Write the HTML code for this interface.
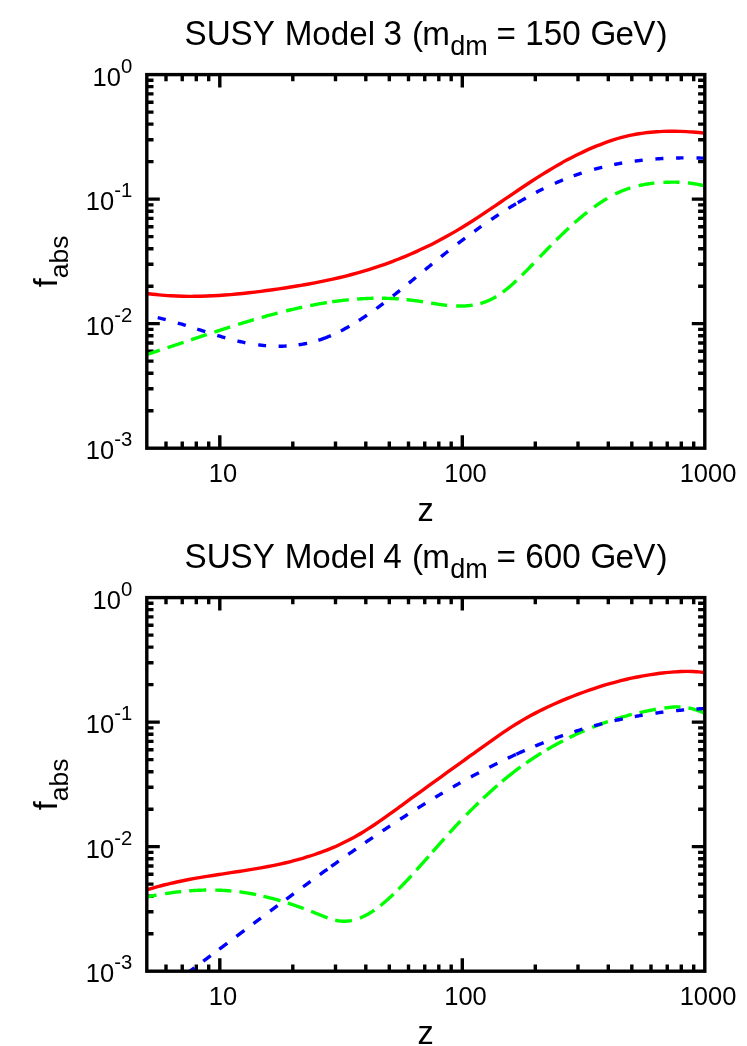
<!DOCTYPE html>
<html><head><meta charset="utf-8"><title>SUSY f_abs</title>
<style>
html,body{margin:0;padding:0;background:#fff;}
body{width:747px;height:1046px;overflow:hidden;}
svg{display:block;font-family:"Liberation Sans",sans-serif;fill:#000;will-change:transform;}
</style></head><body>
<svg width="747" height="1046" viewBox="0 0 747 1046">
<rect width="747" height="1046" fill="#fff"/>
<path d="M166.00 74.60v6.70M166.00 448.20v-6.70M182.24 74.60v6.70M182.24 448.20v-6.70M196.30 74.60v6.70M196.30 448.20v-6.70M208.70 74.60v6.70M208.70 448.20v-6.70M219.80 74.60v13.00M219.80 448.20v-13.00M292.80 74.60v6.70M292.80 448.20v-6.70M335.50 74.60v6.70M335.50 448.20v-6.70M365.80 74.60v6.70M365.80 448.20v-6.70M389.30 74.60v6.70M389.30 448.20v-6.70M408.50 74.60v6.70M408.50 448.20v-6.70M424.74 74.60v6.70M424.74 448.20v-6.70M438.80 74.60v6.70M438.80 448.20v-6.70M451.20 74.60v6.70M451.20 448.20v-6.70M462.30 74.60v13.00M462.30 448.20v-13.00M535.30 74.60v6.70M535.30 448.20v-6.70M578.00 74.60v6.70M578.00 448.20v-6.70M608.30 74.60v6.70M608.30 448.20v-6.70M631.80 74.60v6.70M631.80 448.20v-6.70M651.00 74.60v6.70M651.00 448.20v-6.70M667.24 74.60v6.70M667.24 448.20v-6.70M681.30 74.60v6.70M681.30 448.20v-6.70M693.70 74.60v6.70M693.70 448.20v-6.70M146.80 199.13h13.00M704.80 199.13h-13.00M146.80 161.65h6.70M704.80 161.65h-6.70M146.80 139.72h6.70M704.80 139.72h-6.70M146.80 124.16h6.70M704.80 124.16h-6.70M146.80 112.09h6.70M704.80 112.09h-6.70M146.80 102.23h6.70M704.80 102.23h-6.70M146.80 93.89h6.70M704.80 93.89h-6.70M146.80 86.67h6.70M704.80 86.67h-6.70M146.80 80.30h6.70M704.80 80.30h-6.70M146.80 323.67h13.00M704.80 323.67h-13.00M146.80 286.18h6.70M704.80 286.18h-6.70M146.80 264.25h6.70M704.80 264.25h-6.70M146.80 248.69h6.70M704.80 248.69h-6.70M146.80 236.62h6.70M704.80 236.62h-6.70M146.80 226.76h6.70M704.80 226.76h-6.70M146.80 218.42h6.70M704.80 218.42h-6.70M146.80 211.20h6.70M704.80 211.20h-6.70M146.80 204.83h6.70M704.80 204.83h-6.70M146.80 410.71h6.70M704.80 410.71h-6.70M146.80 388.78h6.70M704.80 388.78h-6.70M146.80 373.22h6.70M704.80 373.22h-6.70M146.80 361.15h6.70M704.80 361.15h-6.70M146.80 351.29h6.70M704.80 351.29h-6.70M146.80 342.96h6.70M704.80 342.96h-6.70M146.80 335.74h6.70M704.80 335.74h-6.70M146.80 329.36h6.70M704.80 329.36h-6.70" stroke="#000" stroke-width="3.40" fill="none"/>
<clipPath id="c3"><rect x="146.80" y="74.60" width="558.00" height="373.60"/></clipPath>
<g clip-path="url(#c3)" fill="none" stroke-width="3.40">
<path d="M146.80 293.51 C147.80 293.63 150.80 294.02 152.80 294.25 C154.80 294.47 156.80 294.68 158.80 294.86 C160.80 295.05 162.80 295.22 164.80 295.37 C166.80 295.52 168.80 295.65 170.80 295.76 C172.80 295.87 174.80 295.97 176.80 296.05 C178.80 296.13 180.80 296.19 182.80 296.24 C184.80 296.28 186.80 296.31 188.80 296.33 C190.80 296.34 192.80 296.34 194.80 296.32 C196.80 296.31 198.80 296.28 200.80 296.23 C202.80 296.19 204.80 296.13 206.80 296.06 C208.80 295.98 210.80 295.90 212.80 295.80 C214.80 295.70 216.80 295.59 218.80 295.47 C220.80 295.34 222.80 295.21 224.80 295.06 C226.80 294.92 228.80 294.76 230.80 294.59 C232.80 294.42 234.80 294.24 236.80 294.05 C238.80 293.86 240.80 293.66 242.80 293.46 C244.80 293.25 246.80 293.03 248.80 292.80 C250.80 292.58 252.80 292.34 254.80 292.10 C256.80 291.86 258.80 291.61 260.80 291.35 C262.80 291.09 264.80 290.83 266.80 290.56 C268.80 290.29 270.80 290.01 272.80 289.72 C274.80 289.44 276.80 289.15 278.80 288.86 C280.80 288.56 282.80 288.26 284.80 287.96 C286.80 287.65 288.80 287.34 290.80 287.02 C292.80 286.71 294.80 286.38 296.80 286.05 C298.80 285.72 300.80 285.38 302.80 285.04 C304.80 284.69 306.80 284.34 308.80 283.97 C310.80 283.61 312.80 283.24 314.80 282.86 C316.80 282.48 318.80 282.09 320.80 281.68 C322.80 281.28 324.80 280.87 326.80 280.44 C328.80 280.02 330.80 279.59 332.80 279.14 C334.80 278.69 336.80 278.23 338.80 277.76 C340.80 277.29 342.80 276.80 344.80 276.30 C346.80 275.80 348.80 275.29 350.80 274.76 C352.80 274.23 354.80 273.69 356.80 273.14 C358.80 272.58 360.80 272.00 362.80 271.42 C364.80 270.83 366.80 270.22 368.80 269.60 C370.80 268.98 372.80 268.34 374.80 267.68 C376.80 267.03 378.80 266.36 380.80 265.67 C382.80 264.98 384.80 264.28 386.80 263.55 C388.80 262.83 390.80 262.09 392.80 261.33 C394.80 260.57 396.80 259.80 398.80 259.00 C400.80 258.21 402.80 257.39 404.80 256.56 C406.80 255.73 408.80 254.88 410.80 254.01 C412.80 253.14 414.80 252.26 416.80 251.35 C418.80 250.44 420.80 249.52 422.80 248.57 C424.80 247.62 426.80 246.66 428.80 245.67 C430.80 244.69 432.80 243.68 434.80 242.66 C436.80 241.63 438.80 240.59 440.80 239.52 C442.80 238.45 444.80 237.37 446.80 236.26 C448.80 235.15 450.80 234.02 452.80 232.87 C454.80 231.72 456.80 230.55 458.80 229.35 C460.80 228.16 462.80 226.94 464.80 225.71 C466.80 224.47 468.80 223.22 470.80 221.95 C472.80 220.68 474.80 219.39 476.80 218.08 C478.80 216.78 480.80 215.47 482.80 214.14 C484.80 212.82 486.80 211.48 488.80 210.13 C490.80 208.79 492.80 207.43 494.80 206.08 C496.80 204.72 498.80 203.36 500.80 201.99 C502.80 200.63 504.80 199.26 506.80 197.90 C508.80 196.54 510.80 195.17 512.80 193.81 C514.80 192.45 516.80 191.10 518.80 189.75 C520.80 188.40 522.80 187.06 524.80 185.73 C526.80 184.40 528.80 183.07 530.80 181.77 C532.80 180.46 534.80 179.16 536.80 177.88 C538.80 176.61 540.80 175.34 542.80 174.10 C544.80 172.85 546.80 171.62 548.80 170.42 C550.80 169.21 552.80 168.02 554.80 166.85 C556.80 165.69 558.80 164.54 560.80 163.42 C562.80 162.29 564.80 161.19 566.80 160.12 C568.80 159.04 570.80 157.98 572.80 156.95 C574.80 155.92 576.80 154.92 578.80 153.94 C580.80 152.96 582.80 152.01 584.80 151.09 C586.80 150.16 588.80 149.26 590.80 148.40 C592.80 147.53 594.80 146.69 596.80 145.88 C598.80 145.07 600.80 144.29 602.80 143.54 C604.80 142.80 606.80 142.08 608.80 141.40 C610.80 140.71 612.80 140.06 614.80 139.45 C616.80 138.83 618.80 138.25 620.80 137.70 C622.80 137.16 624.80 136.65 626.80 136.17 C628.80 135.70 630.80 135.26 632.80 134.86 C634.80 134.46 636.80 134.10 638.80 133.77 C640.80 133.44 642.80 133.15 644.80 132.89 C646.80 132.63 648.80 132.40 650.80 132.21 C652.80 132.01 654.80 131.85 656.80 131.71 C658.80 131.57 660.80 131.47 662.80 131.39 C664.80 131.31 666.80 131.26 668.80 131.23 C670.80 131.20 672.80 131.20 674.80 131.22 C676.80 131.25 678.80 131.29 680.80 131.36 C682.80 131.43 684.80 131.52 686.80 131.63 C688.80 131.73 690.80 131.87 692.80 132.01 C694.80 132.16 696.80 132.32 698.80 132.50 C700.80 132.68 703.80 132.99 704.80 133.09" stroke="#ff0000"/>
<path d="M146.80 354.46L147.80 354.14L148.80 353.82L149.80 353.50L150.80 353.17L151.80 352.85L152.80 352.52L153.80 352.20L154.80 351.87L155.80 351.54L156.80 351.22L157.80 350.89L158.80 350.56L159.80 350.23M167.50 347.68L167.80 347.58L168.80 347.25L169.80 346.92L170.80 346.59L171.80 346.25L172.80 345.92L173.80 345.59L174.80 345.25L175.80 344.92L176.80 344.58L177.80 344.25L178.80 343.91L179.80 343.58L180.80 343.24L181.80 342.91L182.80 342.57L183.60 342.30M191.10 339.79L191.80 339.55L192.80 339.22L193.80 338.88L194.80 338.55L195.80 338.22L196.80 337.88L197.80 337.55L198.80 337.21L199.80 336.88L200.80 336.54L201.80 336.21L202.80 335.88L203.80 335.55L204.80 335.21L205.80 334.88L206.80 334.55M214.40 332.04L214.80 331.91L215.80 331.58L216.80 331.26L217.80 330.93L218.80 330.60L219.80 330.28L220.80 329.95L221.80 329.63L222.80 329.30L223.80 328.98L224.80 328.66L225.80 328.34L226.80 328.02L227.80 327.70L228.80 327.38L229.80 327.06L230.10 326.96M238.20 324.41L238.80 324.23L239.80 323.92L240.80 323.61L241.80 323.30L242.80 322.99L243.80 322.69L244.80 322.38L245.80 322.08L246.80 321.77L247.80 321.47L248.80 321.17L249.80 320.87L250.80 320.57L251.80 320.28L252.80 319.98L253.80 319.68L253.90 319.66M261.70 317.40L261.80 317.37L262.80 317.09L263.80 316.80L264.80 316.52L265.80 316.24L266.80 315.97L267.80 315.69L268.80 315.42L269.80 315.14L270.80 314.87L271.80 314.60L272.80 314.33L273.80 314.06L274.80 313.80L275.80 313.53L276.80 313.27L277.60 313.06M286.10 310.91L286.80 310.74L287.80 310.50L288.80 310.25L289.80 310.01L290.80 309.78L291.80 309.54L292.80 309.31L293.80 309.07L294.80 308.84L295.80 308.61L296.80 308.39L297.80 308.16L298.80 307.94L299.80 307.72L300.80 307.50L301.80 307.29L302.20 307.20M310.20 305.55L310.80 305.43L311.80 305.24L312.80 305.05L313.80 304.85L314.80 304.67L315.80 304.48L316.80 304.30L317.80 304.12L318.80 303.94L319.80 303.76L320.80 303.59L321.80 303.42L322.80 303.25L323.80 303.08L324.80 302.92L325.80 302.75L326.80 302.60L326.90 302.58M332.20 301.78L332.80 301.69L333.80 301.55L334.80 301.41L335.80 301.28L336.80 301.15L337.80 301.02L338.80 300.89L339.80 300.76L340.80 300.64L341.80 300.52L342.80 300.40L343.80 300.29L344.80 300.18L345.80 300.07L346.80 299.97L347.80 299.86L348.80 299.77M357.10 299.05L357.80 299.00L358.80 298.94L359.80 298.87L360.80 298.81L361.80 298.75L362.80 298.69L363.80 298.64L364.80 298.59L365.80 298.54L366.80 298.49L367.80 298.45L368.80 298.42L369.80 298.38L370.80 298.35L371.80 298.32L372.80 298.30L373.50 298.29M382.00 298.24L382.80 298.25L383.80 298.27L384.80 298.28L385.80 298.30L386.80 298.33L387.80 298.36L388.80 298.39L389.80 298.43L390.80 298.47L391.80 298.51L392.80 298.56L393.80 298.61L394.80 298.66L395.80 298.72L396.80 298.79L397.80 298.85L398.80 298.92L398.90 298.93M406.50 299.59L406.80 299.62L407.80 299.73L408.80 299.84L409.80 299.95L410.80 300.07L411.80 300.19L412.80 300.32L413.80 300.45L414.80 300.58L415.80 300.72L416.80 300.87L417.80 301.01L418.80 301.16L419.80 301.31L420.80 301.47L421.80 301.62L422.80 301.78L423.00 301.81M431.10 303.12L431.80 303.24L432.80 303.40L433.80 303.55L434.80 303.71L435.80 303.86L436.80 304.02L437.80 304.16L438.80 304.31L439.80 304.45L440.80 304.59L441.80 304.72L442.80 304.85L443.80 304.98L444.80 305.10L445.80 305.21L446.80 305.32L447.10 305.35M456.20 306.00L456.80 306.02L457.80 306.05L458.80 306.06L459.80 306.07L460.80 306.07L461.80 306.05L462.80 306.03L463.80 305.99L464.80 305.94L465.80 305.88L466.80 305.81L467.80 305.73L468.80 305.63L469.80 305.52L470.80 305.40L471.80 305.26L472.70 305.12M480.30 303.48L480.80 303.34L481.80 303.04L482.80 302.73L483.80 302.39L484.80 302.04L485.80 301.67L486.80 301.28L487.80 300.87L488.80 300.44L489.80 299.99L490.80 299.52L491.80 299.03L492.80 298.52L493.80 297.98L494.80 297.42L495.80 296.84L496.30 296.54M502.80 292.16L503.80 291.41L504.80 290.64L505.80 289.86L506.80 289.05L507.80 288.23L508.80 287.40L509.80 286.54L510.80 285.68L511.80 284.80L512.80 283.91L513.80 283.00L514.80 282.08L515.80 281.15L516.40 280.59M522.00 275.17L522.80 274.38L523.80 273.38L524.80 272.38L525.80 271.37L526.80 270.36L527.80 269.34L528.80 268.32L529.80 267.29L530.80 266.27L531.80 265.24L532.80 264.21L533.50 263.49M539.80 256.96L540.80 255.92L541.80 254.89L542.80 253.85L543.80 252.81L544.80 251.78L545.80 250.75L546.80 249.72L547.80 248.69L548.80 247.66L549.80 246.64L550.80 245.62L551.00 245.41M556.40 239.96L556.80 239.57L557.80 238.57L558.80 237.58L559.80 236.60L560.80 235.62L561.80 234.65L562.80 233.69L563.80 232.73L564.80 231.77L565.80 230.82L566.80 229.88L567.80 228.95L568.80 228.02M574.50 222.85L574.80 222.58L575.80 221.70L576.80 220.83L577.80 219.96L578.80 219.11L579.80 218.25L580.80 217.41L581.80 216.58L582.80 215.75L583.80 214.93L584.80 214.12L585.80 213.32L586.80 212.53L587.10 212.29M594.10 207.02L594.80 206.51L595.80 205.80L596.80 205.10L597.80 204.41L598.80 203.73L599.80 203.06L600.80 202.40L601.80 201.75L602.80 201.10L603.80 200.47L604.80 199.86L605.80 199.25L606.80 198.65L607.20 198.41M615.20 194.07L615.80 193.77L616.80 193.29L617.80 192.81L618.80 192.35L619.80 191.90L620.80 191.47L621.80 191.05L622.80 190.63L623.80 190.24L624.80 189.85L625.80 189.48L626.80 189.12L627.80 188.77L628.80 188.43L629.80 188.10L630.30 187.94M638.70 185.66L638.80 185.64L639.80 185.42L640.80 185.20L641.80 185.00L642.80 184.80L643.80 184.62L644.80 184.44L645.80 184.27L646.80 184.10L647.80 183.95L648.80 183.80L649.80 183.66L650.80 183.53L651.80 183.41L652.80 183.29L653.80 183.18L654.40 183.12M663.40 182.42L663.80 182.40L664.80 182.35L665.80 182.30L666.80 182.27L667.80 182.23L668.80 182.20L669.80 182.18L670.80 182.16L671.80 182.15L672.80 182.14L673.80 182.14L674.80 182.15L675.80 182.16L676.80 182.18L677.80 182.21L678.80 182.24L679.50 182.27M687.90 182.88L688.80 182.97L689.80 183.09L690.80 183.22L691.80 183.35L692.80 183.50L693.80 183.65L694.80 183.81L695.80 183.98L696.80 184.16L697.80 184.36L698.80 184.56L699.80 184.77L700.80 184.99L701.80 185.22L702.80 185.46L703.80 185.71L704.80 185.97" stroke="#00ff00"/>
<path d="M157.70 317.70L158.70 317.93L159.70 318.16L160.70 318.40L161.70 318.64L162.70 318.88L163.70 319.13L164.70 319.38L165.70 319.64M177.80 323.01L178.70 323.28L179.70 323.58L180.70 323.88L181.70 324.19L182.70 324.49L183.70 324.80L184.70 325.11L185.71 325.42L185.80 325.45M197.20 329.08L197.71 329.25L198.71 329.57L199.71 329.89L200.71 330.21L201.71 330.54L202.71 330.86L203.71 331.18L204.71 331.50L205.30 331.69M217.30 335.45L217.71 335.57L218.71 335.87L219.71 336.17L220.71 336.47L221.71 336.76L222.71 337.06L223.71 337.35L224.71 337.63L225.30 337.80M237.40 340.97L237.71 341.04L238.71 341.28L239.71 341.51L240.72 341.73L241.72 341.95L242.72 342.17L243.72 342.38L244.72 342.59L245.40 342.73M258.20 344.85L258.72 344.92L259.72 345.04L260.72 345.16L261.72 345.27L262.72 345.38L263.72 345.48L264.72 345.58L265.72 345.67L266.10 345.70M278.60 346.24L278.72 346.24L279.72 346.24L280.72 346.23L281.72 346.21L282.72 346.19L283.72 346.15L284.72 346.12L285.72 346.07L286.60 346.03M298.60 344.82L298.73 344.80L299.73 344.65L300.73 344.49L301.73 344.32L302.73 344.15L303.73 343.96L304.73 343.77L305.73 343.57L306.73 343.36L307.10 343.28M318.40 340.28L318.73 340.17L319.73 339.85L320.73 339.52L321.73 339.18L322.73 338.83L323.73 338.47L324.73 338.10L325.73 337.72L326.73 337.33L327.73 336.93L328.73 336.53L329.73 336.11L330.73 335.69L330.90 335.61M340.90 330.89L341.73 330.46L342.73 329.94L343.73 329.41L344.73 328.87L345.73 328.32L346.73 327.77L347.73 327.21L348.73 326.64L349.40 326.26M358.90 320.49L359.74 319.96L360.74 319.31L361.74 318.66L362.74 318.00L363.74 317.34L364.74 316.67L365.74 316.00L366.74 315.32L366.90 315.21M376.40 308.50L376.74 308.25L377.74 307.52L378.74 306.78L379.74 306.04L380.74 305.30L381.74 304.55L382.74 303.80L383.40 303.30M392.90 295.96L393.74 295.30L394.74 294.51L395.74 293.72L396.74 292.92L397.74 292.12L398.74 291.32L399.74 290.52L399.90 290.40M408.90 283.10L409.75 282.41L410.75 281.59L411.75 280.77L412.75 279.95L413.75 279.12L414.75 278.30L415.75 277.48L415.90 277.35M425.00 269.85L425.75 269.24L426.75 268.41L427.75 267.59L428.75 266.77L429.75 265.95L430.75 265.13L431.75 264.31L432.10 264.02M441.10 256.72L441.75 256.19L442.75 255.39L443.75 254.59L444.75 253.79L445.75 253.00L446.75 252.21L447.75 251.42L448.10 251.14M457.80 243.61L458.76 242.88L459.76 242.12L460.76 241.36L461.76 240.60L462.76 239.85L463.76 239.10L464.76 238.35L465.00 238.17M474.40 231.27L474.76 231.01L475.76 230.29L476.76 229.57L477.76 228.86L478.76 228.15L479.76 227.44L480.76 226.73L481.40 226.28M491.30 219.47L491.76 219.16L492.76 218.49L493.76 217.82L494.76 217.16L495.76 216.50L496.76 215.84L497.76 215.18L498.70 214.57M508.40 208.39L508.76 208.17L509.76 207.55L510.76 206.93L511.76 206.32L512.76 205.71L513.77 205.10L514.77 204.50L515.77 203.90L516.00 203.76M517.80 202.69L518.77 202.12L519.77 201.54L520.77 200.95L521.77 200.37L522.77 199.80L523.77 199.23L524.77 198.66L525.77 198.09L525.80 198.07M536.10 192.47L536.77 192.12L537.77 191.61L538.77 191.09L539.77 190.58L540.77 190.07L541.77 189.57L542.77 189.07L543.50 188.71M554.90 183.35L555.77 182.96L556.77 182.53L557.77 182.09L558.77 181.66L559.77 181.24L560.77 180.82L561.77 180.40L562.77 179.99L563.00 179.90M573.70 175.79L573.78 175.76L574.78 175.41L575.78 175.05L576.78 174.70L577.78 174.36L578.78 174.02L579.78 173.68L580.78 173.35L581.70 173.05M594.10 169.31L594.78 169.13L595.78 168.86L596.78 168.59L597.78 168.32L598.78 168.06L599.78 167.81L600.78 167.56L601.78 167.31L602.20 167.20M614.20 164.53L614.78 164.41L615.78 164.21L616.78 164.02L617.78 163.83L618.78 163.64L619.78 163.46L620.78 163.28L621.78 163.10L622.20 163.03M634.70 161.11L634.79 161.10L635.79 160.97L636.79 160.84L637.79 160.71L638.79 160.59L639.79 160.47L640.79 160.35L641.79 160.24L642.70 160.14M655.40 158.98L655.79 158.95L656.79 158.88L657.79 158.81L658.79 158.75L659.79 158.68L660.79 158.62L661.79 158.56L662.79 158.51L663.40 158.48M676.10 158.00L676.79 157.99L677.80 157.97L678.80 157.95L679.80 157.94L680.80 157.92L681.80 157.91L682.80 157.90L683.50 157.90M696.50 158.00L696.80 158.00L697.80 158.02L698.80 158.05L699.80 158.07L700.80 158.10L701.80 158.13L702.80 158.16L703.80 158.19L704.80 158.22" stroke="#0000ff"/>
</g>
<rect x="146.80" y="74.60" width="558.00" height="373.60" fill="none" stroke="#000" stroke-width="3.40"/>
<text transform="translate(223.00 481.80) scale(1 1.020)" font-size="25.50" text-anchor="middle">10</text>
<text transform="translate(465.50 481.80) scale(1 1.020)" font-size="25.50" text-anchor="middle">100</text>
<text transform="translate(708.00 481.80) scale(1 1.020)" font-size="25.50" text-anchor="middle">1000</text>
<text transform="translate(132.20 85.70) scale(1 1.020)" font-size="25.50" text-anchor="end">10<tspan font-size="20.30" dy="-12.75">0</tspan></text>
<text transform="translate(132.20 210.23) scale(1 1.020)" font-size="25.50" text-anchor="end">10<tspan font-size="20.30" dy="-12.75">-1</tspan></text>
<text transform="translate(132.20 334.77) scale(1 1.020)" font-size="25.50" text-anchor="end">10<tspan font-size="20.30" dy="-12.75">-2</tspan></text>
<text transform="translate(132.20 459.30) scale(1 1.020)" font-size="25.50" text-anchor="end">10<tspan font-size="20.30" dy="-12.75">-3</tspan></text>
<text transform="translate(425.60 521.40)" font-size="32.50" text-anchor="middle">z</text>
<text transform="translate(57.10 261.40) rotate(-90)" font-size="32.50" text-anchor="middle">f<tspan font-size="26.50" dy="10.7">abs</tspan></text>
<text transform="translate(184.51 45.10) scale(1 1.070)" font-size="33.20" text-anchor="start">SUSY</text>
<text transform="translate(284.66 45.10) scale(1 1.060)" font-size="33.20" text-anchor="start">M</text>
<text transform="translate(312.32 45.10)" font-size="33.20" text-anchor="start">odel</text>
<text transform="translate(383.45 45.10) scale(1 1.030)" font-size="33.20" text-anchor="start">3</text>
<text transform="translate(411.93 45.10)" font-size="33.20" text-anchor="start">(</text>
<text transform="translate(422.16 45.10)" font-size="33.20" text-anchor="start">m</text>
<text transform="translate(450.25 55.30)" font-size="27.00" text-anchor="start">dm</text>
<text transform="translate(496.54 45.10)" font-size="33.20" text-anchor="start">=</text>
<text transform="translate(525.30 45.10) scale(1 1.030)" font-size="33.20" text-anchor="start">150</text>
<text transform="translate(590.44 45.10) scale(1 1.070)" font-size="33.20" text-anchor="start">G</text>
<text transform="translate(615.39 45.10)" font-size="33.20" text-anchor="start">e</text>
<text transform="translate(633.13 45.10) scale(1 1.060)" font-size="33.20" text-anchor="start">V</text>
<text transform="translate(656.55 45.10)" font-size="33.20" text-anchor="start">)</text>
<path d="M166.00 597.60v6.70M166.00 971.20v-6.70M182.24 597.60v6.70M182.24 971.20v-6.70M196.30 597.60v6.70M196.30 971.20v-6.70M208.70 597.60v6.70M208.70 971.20v-6.70M219.80 597.60v13.00M219.80 971.20v-13.00M292.80 597.60v6.70M292.80 971.20v-6.70M335.50 597.60v6.70M335.50 971.20v-6.70M365.80 597.60v6.70M365.80 971.20v-6.70M389.30 597.60v6.70M389.30 971.20v-6.70M408.50 597.60v6.70M408.50 971.20v-6.70M424.74 597.60v6.70M424.74 971.20v-6.70M438.80 597.60v6.70M438.80 971.20v-6.70M451.20 597.60v6.70M451.20 971.20v-6.70M462.30 597.60v13.00M462.30 971.20v-13.00M535.30 597.60v6.70M535.30 971.20v-6.70M578.00 597.60v6.70M578.00 971.20v-6.70M608.30 597.60v6.70M608.30 971.20v-6.70M631.80 597.60v6.70M631.80 971.20v-6.70M651.00 597.60v6.70M651.00 971.20v-6.70M667.24 597.60v6.70M667.24 971.20v-6.70M681.30 597.60v6.70M681.30 971.20v-6.70M693.70 597.60v6.70M693.70 971.20v-6.70M146.80 722.13h13.00M704.80 722.13h-13.00M146.80 684.65h6.70M704.80 684.65h-6.70M146.80 662.72h6.70M704.80 662.72h-6.70M146.80 647.16h6.70M704.80 647.16h-6.70M146.80 635.09h6.70M704.80 635.09h-6.70M146.80 625.23h6.70M704.80 625.23h-6.70M146.80 616.89h6.70M704.80 616.89h-6.70M146.80 609.67h6.70M704.80 609.67h-6.70M146.80 603.30h6.70M704.80 603.30h-6.70M146.80 846.67h13.00M704.80 846.67h-13.00M146.80 809.18h6.70M704.80 809.18h-6.70M146.80 787.25h6.70M704.80 787.25h-6.70M146.80 771.69h6.70M704.80 771.69h-6.70M146.80 759.62h6.70M704.80 759.62h-6.70M146.80 749.76h6.70M704.80 749.76h-6.70M146.80 741.42h6.70M704.80 741.42h-6.70M146.80 734.20h6.70M704.80 734.20h-6.70M146.80 727.83h6.70M704.80 727.83h-6.70M146.80 933.71h6.70M704.80 933.71h-6.70M146.80 911.78h6.70M704.80 911.78h-6.70M146.80 896.22h6.70M704.80 896.22h-6.70M146.80 884.15h6.70M704.80 884.15h-6.70M146.80 874.29h6.70M704.80 874.29h-6.70M146.80 865.96h6.70M704.80 865.96h-6.70M146.80 858.74h6.70M704.80 858.74h-6.70M146.80 852.36h6.70M704.80 852.36h-6.70" stroke="#000" stroke-width="3.40" fill="none"/>
<clipPath id="c4"><rect x="146.80" y="597.60" width="558.00" height="373.60"/></clipPath>
<g clip-path="url(#c4)" fill="none" stroke-width="3.40">
<path d="M146.80 889.83 C147.80 889.53 150.80 888.59 152.80 888.01 C154.80 887.43 156.80 886.87 158.80 886.33 C160.80 885.78 162.80 885.27 164.80 884.76 C166.80 884.26 168.80 883.78 170.80 883.32 C172.80 882.85 174.80 882.40 176.80 881.97 C178.80 881.54 180.80 881.12 182.80 880.72 C184.80 880.31 186.80 879.92 188.80 879.54 C190.80 879.17 192.80 878.80 194.80 878.44 C196.80 878.08 198.80 877.74 200.80 877.40 C202.80 877.06 204.80 876.73 206.80 876.40 C208.80 876.08 210.80 875.76 212.80 875.45 C214.80 875.13 216.80 874.82 218.80 874.52 C220.80 874.21 222.80 873.91 224.80 873.60 C226.80 873.30 228.80 873.00 230.80 872.69 C232.80 872.39 234.80 872.09 236.80 871.78 C238.80 871.47 240.80 871.17 242.80 870.85 C244.80 870.54 246.80 870.22 248.80 869.89 C250.80 869.57 252.80 869.24 254.80 868.90 C256.80 868.56 258.80 868.21 260.80 867.85 C262.80 867.50 264.80 867.13 266.80 866.75 C268.80 866.37 270.80 865.98 272.80 865.58 C274.80 865.17 276.80 864.76 278.80 864.32 C280.80 863.89 282.80 863.44 284.80 862.98 C286.80 862.51 288.80 862.03 290.80 861.53 C292.80 861.03 294.80 860.51 296.80 859.97 C298.80 859.42 300.80 858.86 302.80 858.28 C304.80 857.69 306.80 857.09 308.80 856.46 C310.80 855.83 312.80 855.17 314.80 854.49 C316.80 853.81 318.80 853.10 320.80 852.37 C322.80 851.63 324.80 850.87 326.80 850.07 C328.80 849.28 330.80 848.46 332.80 847.60 C334.80 846.75 336.80 845.86 338.80 844.94 C340.80 844.02 342.80 843.07 344.80 842.09 C346.80 841.10 348.80 840.08 350.80 839.02 C352.80 837.96 354.80 836.86 356.80 835.72 C358.80 834.59 360.80 833.41 362.80 832.20 C364.80 830.99 366.80 829.73 368.80 828.44 C370.80 827.16 372.80 825.83 374.80 824.49 C376.80 823.14 378.80 821.76 380.80 820.37 C382.80 818.98 384.80 817.56 386.80 816.13 C388.80 814.71 390.80 813.26 392.80 811.82 C394.80 810.37 396.80 808.91 398.80 807.45 C400.80 806.00 402.80 804.54 404.80 803.09 C406.80 801.63 408.80 800.18 410.80 798.73 C412.80 797.28 414.80 795.83 416.80 794.38 C418.80 792.93 420.80 791.48 422.80 790.03 C424.80 788.58 426.80 787.14 428.80 785.69 C430.80 784.24 432.80 782.80 434.80 781.36 C436.80 779.91 438.80 778.47 440.80 777.03 C442.80 775.58 444.80 774.14 446.80 772.70 C448.80 771.26 450.80 769.82 452.80 768.38 C454.80 766.94 456.80 765.50 458.80 764.06 C460.80 762.63 462.80 761.19 464.80 759.75 C466.80 758.32 468.80 756.88 470.80 755.44 C472.80 754.01 474.80 752.57 476.80 751.14 C478.80 749.70 480.80 748.27 482.80 746.84 C484.80 745.40 486.80 743.97 488.80 742.55 C490.80 741.13 492.80 739.71 494.80 738.31 C496.80 736.91 498.80 735.52 500.80 734.15 C502.80 732.78 504.80 731.42 506.80 730.09 C508.80 728.76 510.80 727.45 512.80 726.18 C514.80 724.90 516.80 723.65 518.80 722.43 C520.80 721.22 522.80 720.04 524.80 718.89 C526.80 717.74 528.80 716.63 530.80 715.54 C532.80 714.46 534.80 713.40 536.80 712.37 C538.80 711.34 540.80 710.35 542.80 709.37 C544.80 708.39 546.80 707.44 548.80 706.51 C550.80 705.58 552.80 704.67 554.80 703.78 C556.80 702.89 558.80 702.02 560.80 701.17 C562.80 700.31 564.80 699.47 566.80 698.65 C568.80 697.83 570.80 697.03 572.80 696.24 C574.80 695.46 576.80 694.68 578.80 693.93 C580.80 693.18 582.80 692.44 584.80 691.73 C586.80 691.01 588.80 690.31 590.80 689.62 C592.80 688.94 594.80 688.27 596.80 687.63 C598.80 686.98 600.80 686.35 602.80 685.74 C604.80 685.13 606.80 684.53 608.80 683.96 C610.80 683.38 612.80 682.82 614.80 682.28 C616.80 681.75 618.80 681.22 620.80 680.72 C622.80 680.22 624.80 679.74 626.80 679.27 C628.80 678.81 630.80 678.36 632.80 677.94 C634.80 677.51 636.80 677.10 638.80 676.72 C640.80 676.33 642.80 675.96 644.80 675.61 C646.80 675.26 648.80 674.93 650.80 674.62 C652.80 674.31 654.80 674.02 656.80 673.75 C658.80 673.48 660.80 673.23 662.80 673.00 C664.80 672.76 666.80 672.55 668.80 672.36 C670.80 672.17 672.80 672.00 674.80 671.86 C676.80 671.71 678.80 671.59 680.80 671.51 C682.80 671.42 684.80 671.37 686.80 671.36 C688.80 671.36 690.80 671.39 692.80 671.47 C694.80 671.56 696.80 671.69 698.80 671.89 C700.80 672.08 703.80 672.52 704.80 672.65" stroke="#ff0000"/>
<path d="M146.80 897.01L147.80 896.81L148.80 896.60L149.80 896.40L150.80 896.20L151.80 896.00L152.80 895.81L153.80 895.62L154.80 895.43L155.80 895.25L156.50 895.12M165.10 893.66L165.80 893.56L166.80 893.40L167.80 893.25L168.80 893.11L169.80 892.96L170.80 892.82L171.80 892.69L172.80 892.55L173.80 892.42L174.80 892.29L175.80 892.17L176.80 892.05L177.80 891.93L178.80 891.82L179.80 891.71L180.80 891.60L181.20 891.56M189.20 890.83L189.80 890.78L190.80 890.71L191.80 890.64L192.80 890.58L193.80 890.51L194.80 890.45L195.80 890.40L196.80 890.35L197.80 890.30L198.80 890.26L199.80 890.22L200.80 890.18L201.80 890.15L202.80 890.12L203.80 890.09L204.80 890.07L205.80 890.06L206.30 890.05M215.30 890.09L215.80 890.10L216.80 890.13L217.80 890.16L218.80 890.19L219.80 890.23L220.80 890.27L221.80 890.32L222.80 890.37L223.80 890.43L224.80 890.49L225.80 890.55L226.80 890.62L227.80 890.69L228.80 890.77L229.80 890.85L230.80 890.94L231.40 890.99M239.40 891.86L239.80 891.91L240.80 892.04L241.80 892.17L242.80 892.31L243.80 892.46L244.80 892.61L245.80 892.76L246.80 892.92L247.80 893.08L248.80 893.25L249.80 893.42L250.80 893.60L251.80 893.78L252.80 893.97L253.80 894.16L254.80 894.35L255.80 894.55L256.10 894.62M263.50 896.24L263.80 896.31L264.80 896.55L265.80 896.79L266.80 897.04L267.80 897.29L268.80 897.54L269.80 897.80L270.80 898.06L271.80 898.33L272.80 898.60L273.80 898.87L274.80 899.15L275.80 899.43L276.80 899.71L277.80 900.00L278.80 900.29L279.80 900.59L280.50 900.79M287.80 903.07L288.80 903.39L289.80 903.72L290.80 904.05L291.80 904.39L292.80 904.72L293.80 905.06L294.80 905.41L295.80 905.75L296.80 906.10L297.80 906.45L298.80 906.81L299.80 907.16L300.80 907.52L301.80 907.89L302.80 908.25L303.70 908.58M311.10 911.38L311.80 911.65L312.80 912.04L313.80 912.43L314.80 912.82L315.80 913.22L316.80 913.62L317.80 914.02L318.80 914.42L319.80 914.82L320.80 915.23L321.80 915.63L322.80 916.03L323.80 916.43L324.80 916.82L325.80 917.21L326.80 917.59L327.60 917.88M335.20 920.19L335.80 920.33L336.80 920.53L337.80 920.71L338.80 920.86L339.80 920.99L340.80 921.09L341.80 921.17L342.80 921.21L343.80 921.24L344.80 921.23L345.80 921.20L346.80 921.15L347.80 921.06L348.80 920.95L349.80 920.82L350.80 920.66L351.80 920.47L351.90 920.45M359.90 918.05L360.80 917.69L361.80 917.26L362.80 916.82L363.80 916.34L364.80 915.85L365.80 915.34L366.80 914.80L367.80 914.25L368.80 913.67L369.80 913.08L370.80 912.47L371.80 911.83L372.80 911.18L373.80 910.51L374.40 910.10M380.40 905.66L380.80 905.34L381.80 904.54L382.80 903.72L383.80 902.89L384.80 902.04L385.80 901.18L386.80 900.31L387.80 899.42L388.80 898.52L389.80 897.61L390.80 896.69L391.80 895.76L392.80 894.81L393.50 894.14M398.50 889.23L398.80 888.92L399.80 887.91L400.80 886.89L401.80 885.86L402.80 884.82L403.80 883.78L404.80 882.73L405.80 881.67L406.80 880.61L407.80 879.54L408.80 878.47L409.80 877.39L410.80 876.31L411.50 875.55M416.50 870.04L416.80 869.71L417.80 868.60L418.80 867.48L419.80 866.36L420.80 865.24L421.80 864.11L422.80 862.98L423.80 861.85L424.80 860.72L425.80 859.59L426.80 858.45L427.80 857.32L428.60 856.41M432.50 851.97L432.80 851.63L433.80 850.49L434.80 849.35L435.80 848.21L436.80 847.08L437.80 845.94L438.80 844.81L439.80 843.67L440.80 842.54L441.80 841.41L442.80 840.29L443.80 839.16L444.30 838.60M449.40 832.92L449.80 832.48L450.80 831.38L451.80 830.28L452.80 829.19L453.80 828.10L454.80 827.01L455.80 825.94L456.80 824.86L457.80 823.80L458.80 822.73L459.80 821.68L460.40 821.04M466.40 814.82L466.80 814.41L467.80 813.40L468.80 812.38L469.80 811.38L470.80 810.37L471.80 809.37L472.80 808.38L473.80 807.39L474.80 806.41L475.80 805.43L476.80 804.46L477.80 803.49L478.50 802.81M483.30 798.25L483.80 797.78L484.80 796.84L485.80 795.91L486.80 794.98L487.80 794.06L488.80 793.14L489.80 792.23L490.80 791.32L491.80 790.42L492.80 789.52L493.80 788.63L494.80 787.74L495.80 786.85L496.80 785.98L497.40 785.45M502.10 781.42L502.80 780.83L503.80 780.00L504.80 779.17L505.80 778.34L506.80 777.53L507.80 776.72L508.80 775.92L509.80 775.12L510.80 774.33L511.80 773.55L512.80 772.77L513.80 772.00L514.80 771.23L515.80 770.47L516.80 769.72L517.80 768.97L518.80 768.23L519.80 767.50L520.60 766.91M526.20 762.94L526.80 762.52L527.80 761.83L528.80 761.15L529.80 760.47L530.80 759.80L531.80 759.14L532.80 758.47L533.80 757.82L534.80 757.17L535.80 756.52L536.80 755.88L537.80 755.25L538.80 754.62L539.80 754.00L540.80 753.38L541.30 753.07M546.90 749.70L547.80 749.18L548.80 748.59L549.80 748.02L550.80 747.44L551.80 746.88L552.80 746.31L553.80 745.75L554.80 745.20L555.80 744.65L556.80 744.10L557.80 743.56L558.80 743.02L559.80 742.49L560.80 741.95L561.80 741.43L562.80 740.91L563.00 740.80M569.40 737.57L569.80 737.37L570.80 736.88L571.80 736.40L572.80 735.92L573.80 735.44L574.80 734.97L575.80 734.50L576.80 734.03L577.80 733.57L578.80 733.12L579.80 732.67L580.80 732.22L581.80 731.77L582.80 731.33L583.80 730.90L584.50 730.59M592.20 727.39L592.80 727.14L593.80 726.75L594.80 726.35L595.80 725.96L596.80 725.58L597.80 725.20L598.80 724.82L599.80 724.45L600.80 724.08L601.80 723.71L602.80 723.35L603.80 722.99L604.80 722.63L605.80 722.28L606.80 721.93L607.80 721.59L607.90 721.56M615.30 719.13L615.80 718.98L616.80 718.67L617.80 718.36L618.80 718.06L619.80 717.76L620.80 717.46L621.80 717.17L622.80 716.88L623.80 716.60L624.80 716.32L625.80 716.04L626.80 715.77L627.80 715.50L628.80 715.23L629.80 714.97L630.80 714.71L631.80 714.46M639.50 712.61L639.80 712.54L640.80 712.31L641.80 712.09L642.80 711.88L643.80 711.66L644.80 711.45L645.80 711.25L646.80 711.04L647.80 710.84L648.80 710.65L649.80 710.46L650.80 710.27L651.80 710.08L652.80 709.90L653.80 709.72L654.80 709.54L655.80 709.37L656.00 709.34M664.40 708.03L664.80 707.97L665.80 707.83L666.80 707.70L667.80 707.57L668.80 707.45L669.80 707.33L670.80 707.23L671.80 707.14L672.80 707.06L673.80 706.99L674.80 706.93L675.80 706.89L676.80 706.86L677.80 706.85L678.80 706.86L679.80 706.89L680.50 706.92M688.50 707.95L688.80 708.01L689.80 708.23L690.80 708.46L691.80 708.71L692.80 708.98L693.80 709.26L694.80 709.56L695.80 709.87L696.80 710.20L697.80 710.54L698.80 710.89L699.80 711.26L700.80 711.64L701.80 712.03L702.80 712.43L703.80 712.85L704.80 713.27" stroke="#00ff00"/>
<path d="M184.00 975.64L184.01 975.64L185.01 974.89L186.01 974.15L187.01 973.40L188.01 972.66L189.01 971.91L190.02 971.17L191.02 970.42L192.02 969.67L193.02 968.93L194.02 968.18L194.60 967.75M203.30 961.25L204.04 960.69L205.04 959.94L206.04 959.20L207.04 958.45L208.04 957.70L209.04 956.94L210.05 956.19L210.70 955.70M219.30 949.25L220.06 948.68L221.06 947.93L222.06 947.18L223.07 946.43L224.07 945.68L225.07 944.92L226.07 944.17L227.07 943.42L227.30 943.25M236.40 936.42L237.09 935.90L238.09 935.15L239.09 934.40L240.09 933.65L241.09 932.89L242.09 932.14L243.10 931.39L244.10 930.64L244.40 930.41M253.50 923.59L254.11 923.13L255.11 922.38L256.12 921.63L257.12 920.88L258.12 920.13L259.12 919.39L260.12 918.64L260.90 918.06M270.10 911.19L270.14 911.16L271.14 910.41L272.14 909.67L273.14 908.92L274.14 908.18L275.15 907.43L276.15 906.69L277.15 905.94L277.60 905.61M286.30 899.16L287.16 898.52L288.16 897.78L289.17 897.04L290.17 896.30L291.17 895.56L292.17 894.82L293.17 894.08L293.70 893.70M303.10 886.79L303.19 886.73L304.19 886.00L305.19 885.26L306.19 884.53L307.19 883.80L308.20 883.07L309.20 882.34L310.20 881.61L310.50 881.39M319.80 874.65L320.21 874.35L321.22 873.63L322.22 872.90L323.22 872.18L324.22 871.46L325.22 870.74L326.22 870.02L327.22 869.30L327.40 869.18M331.20 866.46L331.23 866.44L332.23 865.72L333.23 865.01L334.24 864.29L335.24 863.58L336.24 862.87L337.24 862.16L338.24 861.44L338.80 861.05M348.30 854.35L349.26 853.68L350.26 852.98L351.26 852.28L352.26 851.58L353.26 850.88L354.27 850.18L355.27 849.49L355.90 849.05M365.20 842.63L365.28 842.57L366.28 841.89L367.29 841.20L368.29 840.52L369.29 839.83L370.29 839.15L371.29 838.47L372.29 837.79L372.90 837.38M382.60 830.85L383.31 830.37L384.31 829.71L385.31 829.04L386.31 828.37L387.32 827.71L388.32 827.05L389.32 826.38L390.10 825.87M400.20 819.27L400.34 819.18L401.34 818.53L402.34 817.88L403.34 817.24L404.34 816.59L405.34 815.95L406.35 815.31L407.35 814.67L407.80 814.38M417.60 808.19L418.36 807.71L419.36 807.09L420.37 806.46L421.37 805.84L422.37 805.22L423.37 804.60L424.37 803.98L425.30 803.41M435.30 797.34L435.39 797.28L436.39 796.68L437.39 796.08L438.39 795.48L439.40 794.89L440.40 794.29L441.40 793.70L442.40 793.11L442.70 792.93M453.00 786.95L453.42 786.71L454.42 786.13L455.42 785.56L456.42 784.99L457.42 784.43L458.42 783.86L459.43 783.30L460.40 782.75M471.00 776.90L471.44 776.66L472.45 776.12L473.45 775.58L474.45 775.04L475.45 774.50L476.45 773.97L477.45 773.43L478.45 772.90L478.90 772.67M489.30 767.27L489.47 767.18L490.47 766.67L491.47 766.17L492.48 765.66L493.48 765.16L494.48 764.66L495.48 764.16L496.48 763.66L497.40 763.21M507.80 758.19L508.50 757.85L509.50 757.38L510.50 756.92L511.51 756.45L512.51 755.98L513.51 755.52L514.51 755.06L515.51 754.60L515.90 754.43M516.40 754.20L516.51 754.15L517.51 753.69L518.52 753.24L519.52 752.79L520.52 752.34L521.52 751.90L522.52 751.45L523.52 751.01L524.53 750.57L524.80 750.46M535.20 746.03L535.54 745.89L536.54 745.48L537.55 745.07L538.55 744.66L539.55 744.26L540.55 743.86L541.55 743.46L542.55 743.06L543.55 742.66L543.60 742.64M554.70 738.41L555.57 738.09L556.57 737.73L557.58 737.37L558.58 737.01L559.58 736.65L560.58 736.30L561.58 735.94L562.58 735.59L563.00 735.45M574.40 731.65L574.60 731.58L575.60 731.26L576.60 730.95L577.61 730.63L578.61 730.32L579.61 730.01L580.61 729.70L581.61 729.40L582.50 729.13M594.20 725.77L594.63 725.65L595.63 725.38L596.64 725.11L597.64 724.85L598.64 724.58L599.64 724.32L600.64 724.06L601.64 723.80L602.30 723.63M614.50 720.69L614.66 720.65L615.66 720.42L616.67 720.20L617.67 719.98L618.67 719.76L619.67 719.54L620.67 719.32L621.67 719.11L622.67 718.90L622.80 718.87M634.80 716.51L635.69 716.34L636.70 716.16L637.70 715.98L638.70 715.80L639.70 715.63L640.70 715.46L641.70 715.29L642.70 715.12M655.40 713.15L655.73 713.11L656.73 712.97L657.73 712.83L658.73 712.69L659.73 712.56L660.73 712.43L661.73 712.30L662.74 712.17L663.40 712.08M676.10 710.65L676.76 710.58L677.76 710.48L678.76 710.38L679.76 710.29L680.76 710.20L681.76 710.10L682.77 710.02L683.77 709.93L684.10 709.90M696.50 708.98L696.79 708.96L697.79 708.90L698.79 708.84L699.79 708.78L700.79 708.73L701.80 708.67L702.80 708.62L703.80 708.57L704.80 708.52" stroke="#0000ff"/>
</g>
<rect x="146.80" y="597.60" width="558.00" height="373.60" fill="none" stroke="#000" stroke-width="3.40"/>
<text transform="translate(223.00 1004.80) scale(1 1.020)" font-size="25.50" text-anchor="middle">10</text>
<text transform="translate(465.50 1004.80) scale(1 1.020)" font-size="25.50" text-anchor="middle">100</text>
<text transform="translate(708.00 1004.80) scale(1 1.020)" font-size="25.50" text-anchor="middle">1000</text>
<text transform="translate(132.20 608.70) scale(1 1.020)" font-size="25.50" text-anchor="end">10<tspan font-size="20.30" dy="-12.75">0</tspan></text>
<text transform="translate(132.20 733.23) scale(1 1.020)" font-size="25.50" text-anchor="end">10<tspan font-size="20.30" dy="-12.75">-1</tspan></text>
<text transform="translate(132.20 857.77) scale(1 1.020)" font-size="25.50" text-anchor="end">10<tspan font-size="20.30" dy="-12.75">-2</tspan></text>
<text transform="translate(132.20 982.30) scale(1 1.020)" font-size="25.50" text-anchor="end">10<tspan font-size="20.30" dy="-12.75">-3</tspan></text>
<text transform="translate(425.60 1044.40)" font-size="32.50" text-anchor="middle">z</text>
<text transform="translate(57.10 784.40) rotate(-90)" font-size="32.50" text-anchor="middle">f<tspan font-size="26.50" dy="10.7">abs</tspan></text>
<text transform="translate(184.51 568.10) scale(1 1.070)" font-size="33.20" text-anchor="start">SUSY</text>
<text transform="translate(284.66 568.10) scale(1 1.060)" font-size="33.20" text-anchor="start">M</text>
<text transform="translate(312.32 568.10)" font-size="33.20" text-anchor="start">odel</text>
<text transform="translate(383.25 568.10) scale(1 1.030)" font-size="33.20" text-anchor="start">4</text>
<text transform="translate(411.93 568.10)" font-size="33.20" text-anchor="start">(</text>
<text transform="translate(422.16 568.10)" font-size="33.20" text-anchor="start">m</text>
<text transform="translate(450.25 578.30)" font-size="27.00" text-anchor="start">dm</text>
<text transform="translate(496.54 568.10)" font-size="33.20" text-anchor="start">=</text>
<text transform="translate(525.30 568.10) scale(1 1.030)" font-size="33.20" text-anchor="start">600</text>
<text transform="translate(590.44 568.10) scale(1 1.070)" font-size="33.20" text-anchor="start">G</text>
<text transform="translate(615.39 568.10)" font-size="33.20" text-anchor="start">e</text>
<text transform="translate(633.13 568.10) scale(1 1.060)" font-size="33.20" text-anchor="start">V</text>
<text transform="translate(656.55 568.10)" font-size="33.20" text-anchor="start">)</text>
</svg>
</body></html>
